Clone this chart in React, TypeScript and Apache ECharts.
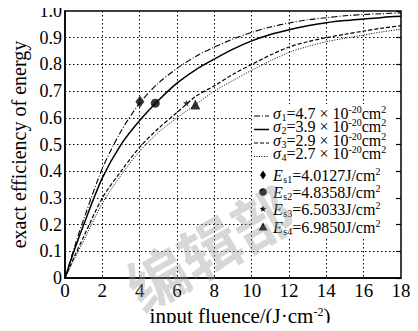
import React, { useEffect, useRef } from "react";
import * as echarts from "echarts";

// ---- data ----
const fluence = [0, 0.5, 1, 2, 3, 4, 5, 6, 7, 8, 9, 10, 11, 12, 13, 14, 15, 16, 17, 18];
const eff1 = [0, 0.115, 0.22, 0.41, 0.55, 0.655, 0.73, 0.785, 0.83, 0.865, 0.895, 0.92, 0.94, 0.955, 0.967, 0.975, 0.982, 0.987, 0.99, 0.993];
const eff2 = [0, 0.105, 0.2, 0.375, 0.5, 0.59, 0.665, 0.73, 0.78, 0.82, 0.857, 0.888, 0.912, 0.93, 0.945, 0.956, 0.964, 0.97, 0.976, 0.98];
const eff3 = [0, 0.08, 0.155, 0.3, 0.4, 0.49, 0.56, 0.62, 0.68, 0.72, 0.763, 0.8, 0.835, 0.865, 0.885, 0.9, 0.913, 0.925, 0.936, 0.945];
const eff4 = [0, 0.072, 0.14, 0.28, 0.385, 0.475, 0.545, 0.6, 0.65, 0.7, 0.74, 0.778, 0.813, 0.845, 0.867, 0.885, 0.898, 0.91, 0.922, 0.932];
const satFluence = [4.0127, 4.8358, 6.5033, 6.985];
const satEff = [0.66, 0.655, 0.655, 0.65];
const sigmaValues = ["4.7", "3.9", "2.9", "2.7"];
const esLabels = ["4.0127", "4.8358", "6.5033", "6.9850"];

const FAMILY = "'Liberation Serif', 'Times New Roman', serif";
const STAR =
  "path://M50,0 L61,35 L98,35 L68,57 L79,91 L50,70 L21,91 L32,57 L2,35 L39,35 Z";

type Seg = [string, "m" | "i" | "sub" | "sup"];

export default function App() {
  const ref = useRef<HTMLDivElement>(null);
  useEffect(() => {
    if (!ref.current) return;
    const chart = echarts.init(ref.current, undefined, { renderer: "svg" });
    const pairs = (ys: number[]) => fluence.map((x, i) => [x, ys[i]]);
    const curves = [eff1, eff2, eff3, eff4];
    const dashes: any[] = [[6, 2, 1, 2], "solid", [4, 2], [1, 1.5]];
    const widths = [1.1, 1.5, 1.2, 1];
    const markSymbols = ["diamond", "circle", STAR, "triangle"];
    const markSizes: any[] = [[9, 12], 9, 7, 10];

    const lineSeries = curves.map((ys, k) => ({
      type: "line",
      data: pairs(ys),
      smooth: 0.3,
      symbol: "none",
      lineStyle: { color: "#000", width: widths[k], type: dashes[k] },
      z: 2,
    }));
    const markSeries = satFluence.map((x, k) => ({
      type: "scatter",
      data: [[x, satEff[k]]],
      symbol: markSymbols[k],
      symbolSize: markSizes[k],
      itemStyle: { color: "#000" },
      z: 3,
    }));

    const fonts: Record<string, string> = {
      m: `16px ${FAMILY}`,
      i: `italic 16px ${FAMILY}`,
      sub: `10px ${FAMILY}`,
      sup: `10px ${FAMILY}`,
    };
    const dys: Record<string, number> = { m: 0, i: 0, sub: 4, sup: -4 };
    const measure = (text: string, font: string) => {
      const t = new (echarts.graphic as any).Text({ style: { text, font } });
      return t.getBoundingRect().width;
    };
    const graphics: any[] = [
      { type: "rect", shape: { x: 253, y: 104, width: 146, height: 135 }, style: { fill: "#fff" }, z: 3 },
    ];
    const pushRow = (segs: Seg[], x0: number, y: number) => {
      let x = x0;
      segs.forEach(([text, kind]) => {
        graphics.push({
          type: "text",
          x,
          y: y + dys[kind],
          style: { text, font: fonts[kind], fill: "#000", align: "left", verticalAlign: "middle" },
          z: 4,
        });
        x += measure(text, fonts[kind]) + (kind === "i" ? 0.5 : 0);
      });
    };

    const legendX = 254;
    const textX = 273;
    const sigmaY = [113, 126.5, 140, 153.5];
    const esY = [175, 192, 209, 227];
    sigmaValues.forEach((v, k) => {
      graphics.push({
        type: "line",
        shape: { x1: legendX, y1: sigmaY[k] + 3, x2: legendX + 15, y2: sigmaY[k] + 3 },
        style: { stroke: "#000", lineWidth: widths[k], lineDash: dashes[k] === "solid" ? null : dashes[k] },
        z: 4,
      });
      pushRow(
        [
          ["σ", "i"],
          [`${k + 1}`, "sub"],
          [`=${v} × 10`, "m"],
          ["-20", "sup"],
          ["cm", "m"],
          ["2", "sup"],
        ],
        textX,
        sigmaY[k]
      );
    });
    const lx = 263;
    esLabels.forEach((v, k) => {
      const y = esY[k];
      let sym: any;
      if (k === 0) sym = { type: "polygon", shape: { points: [[lx, y - 4.5], [lx + 3, y], [lx, y + 4.5], [lx - 3, y]] } };
      else if (k === 1) sym = { type: "circle", shape: { cx: lx, cy: y, r: 3.8 } };
      else if (k === 2) {
        const pts: number[][] = [];
        for (let j = 0; j < 10; j++) {
          const a = -Math.PI / 2 + (j * Math.PI) / 5;
          const r = j % 2 === 0 ? 3.5 : 1.5;
          pts.push([lx + r * Math.cos(a), y + r * Math.sin(a)]);
        }
        sym = { type: "polygon", shape: { points: pts } };
      } else sym = { type: "polygon", shape: { points: [[lx, y - 4.5], [lx + 4.5, y + 3.5], [lx - 4.5, y + 3.5]] } };
      sym.style = { fill: "#000" };
      sym.z = 4;
      graphics.push(sym);
      pushRow(
        [
          ["E", "i"],
          [`s${k + 1}`, "sub"],
          [`=${v}J/cm`, "m"],
          ["2", "sup"],
        ],
        textX,
        y
      );
    });
    graphics.push({
      type: "text",
      x: 208,
      y: 246,
      rotation: 0.52,
      style: {
        text: "编辑部",
        fontFamily: "'Noto Sans CJK SC', sans-serif",
        fontSize: 60,
        fontWeight: "bold",
        fill: "rgba(150,150,150,0.38)",
        align: "center",
        verticalAlign: "middle",
      },
      z: 20,
    });

    chart.setOption({
      animation: false,
      backgroundColor: "#fff",
      grid: { left: 65, right: 17, top: 11, bottom: 46, show: true, borderColor: "#000", borderWidth: 1.5 },
      xAxis: {
        type: "value",
        min: 0,
        max: 18,
        interval: 2,
        name: "input fluence/(J·cm{sup|-2})",
        nameLocation: "middle",
        nameGap: 22,
        nameTextStyle: {
          fontFamily: FAMILY,
          fontSize: 21,
          color: "#000",
          lineHeight: 20,
          padding: [0, 0, 0, 14],
          rich: { sup: { fontFamily: FAMILY, fontSize: 12, color: "#000", verticalAlign: "top", lineHeight: 10 } },
        },
        axisLine: { show: true, lineStyle: { color: "#000", width: 1.5 } },
        axisTick: { show: false },
        axisLabel: { fontFamily: FAMILY, fontSize: 19, color: "#000", margin: 3 },
        splitLine: { show: true, showMinLine: false, showMaxLine: false, lineStyle: { color: "#000", type: [1.5, 2.5], width: 1 } },
      },
      yAxis: [
        {
          type: "value",
          min: 0,
          max: 1,
          interval: 0.1,
          name: "exact efficiency of energy",
          nameLocation: "middle",
          nameGap: 34,
          nameTextStyle: { fontFamily: FAMILY, fontSize: 20, color: "#000" },
          axisLine: { show: true, lineStyle: { color: "#000", width: 1.5 } },
          axisTick: { show: false },
          axisLabel: {
            fontFamily: FAMILY,
            fontSize: 18,
            color: "#000",
            margin: 3,
            formatter: (v: number) => (v === 0 ? "0" : v.toFixed(1)),
          },
          splitLine: { show: true, showMinLine: false, showMaxLine: false, lineStyle: { color: "#000", type: [1.5, 2.5], width: 1 } },
        },
        {
          type: "value",
          position: "right",
          min: 0,
          max: 1,
          interval: 0.1,
          z: 10,
          axisLine: { show: false },
          axisTick: { show: true, inside: true, length: 5, lineStyle: { color: "#000", width: 1.2 } },
          axisLabel: { show: false },
          splitLine: { show: false },
        },
      ],
      series: [...lineSeries, ...markSeries],
      graphic: graphics,
    });
    return () => chart.dispose();
  }, []);
  return <div ref={ref} style={{ width: 418, height: 331, margin: -8 }} />;
}
